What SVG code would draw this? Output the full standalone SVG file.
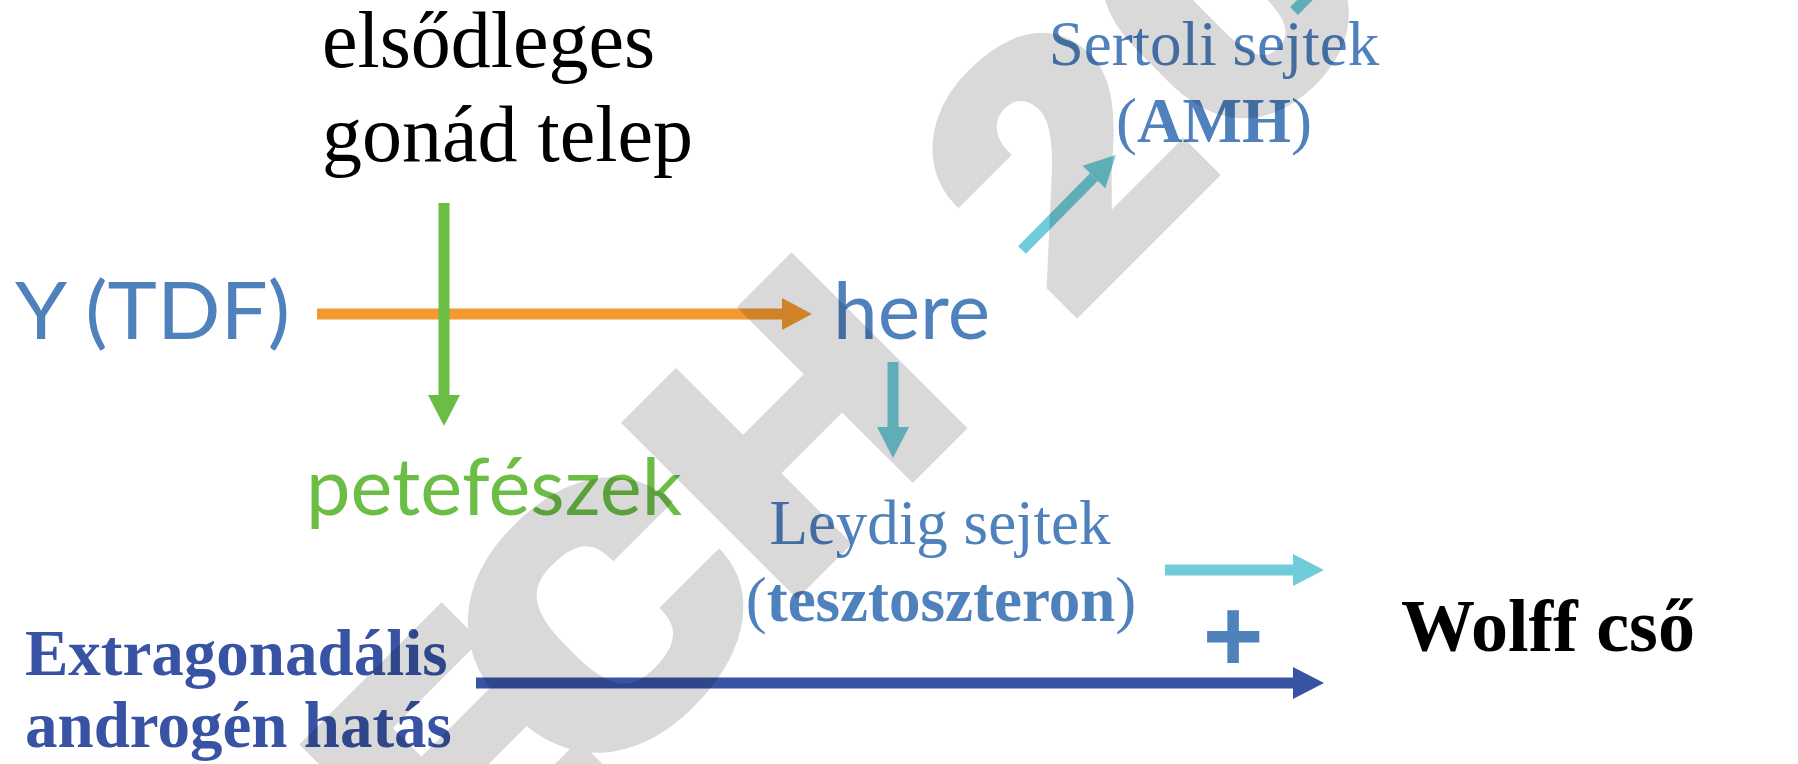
<svg xmlns="http://www.w3.org/2000/svg" width="1798" height="764" viewBox="0 0 1798 764">
<defs>
<style>
.serif{font-family:"Liberation Serif","Times New Roman",serif}
.sans{font-family:Lato,"Open Sans","Liberation Sans",sans-serif}
.blue{fill:#4F81BD}
.navy{fill:#3953A4}
.b{font-weight:bold}
.ln{fill:none;stroke-width:11}
.wm text{font-family:Roboto,"DejaVu Sans",sans-serif;font-weight:900;font-size:336px;fill:#000;stroke:#000;stroke-width:10;stroke-linejoin:miter}
</style>
<marker id="hOrange" markerUnits="userSpaceOnUse" markerWidth="31" markerHeight="32" refX="0" refY="16" orient="auto" overflow="visible"><path d="M0,0 L30,16 L0,32 Z" fill="#F4992F"/></marker>
<marker id="hGreen" markerUnits="userSpaceOnUse" markerWidth="31" markerHeight="32" refX="0" refY="16" orient="auto" overflow="visible"><path d="M0,0 L31,16 L0,32 Z" fill="#6CBD45"/></marker>
<marker id="hCyan" markerUnits="userSpaceOnUse" markerWidth="31" markerHeight="32" refX="0" refY="16" orient="auto" overflow="visible"><path d="M0,0 L31,16 L0,32 Z" fill="#6FCCD8"/></marker>
<marker id="hNavy" markerUnits="userSpaceOnUse" markerWidth="31" markerHeight="32" refX="0" refY="16" orient="auto" overflow="visible"><path d="M0,0 L31,16 L0,32 Z" fill="#3953A4"/></marker>
</defs>
<rect width="1798" height="764" fill="#fff"/>

<g id="connectors">
<line class="ln" x1="317" y1="314" x2="782" y2="314" stroke="#F4992F" marker-end="url(#hOrange)"/>
<line class="ln" x1="444" y1="203" x2="444" y2="395" stroke="#6CBD45" stroke-width="10" marker-end="url(#hGreen)"/>
<line class="ln" x1="893" y1="362" x2="893" y2="427" stroke="#6FCCD8" marker-end="url(#hCyan)"/>
<line class="ln" x1="1022" y1="250" x2="1094" y2="177" stroke="#6FCCD8" marker-end="url(#hCyan)"/>
<line class="ln" x1="1294" y1="11" x2="1320" y2="-15" stroke="#6FCCD8"/>
<line class="ln" x1="1165" y1="570" x2="1293" y2="570" stroke="#6FCCD8" marker-end="url(#hCyan)"/>
<line class="ln" x1="476" y1="683" x2="1293" y2="683" stroke="#3953A4" marker-end="url(#hNavy)"/>
</g>

<g id="node-primary">
<text class="serif" x="322" y="67" font-size="80" fill="#000">elsődleges</text>
<text class="serif" x="322" y="161" font-size="80" fill="#000">gonád telep</text>
</g>
<g id="node-y">
<text class="sans blue" x="15" y="339" font-size="80" textLength="275" lengthAdjust="spacingAndGlyphs">Y (TDF)</text>
</g>
<g id="node-here">
<text class="sans blue" x="833" y="339" font-size="80" textLength="157" lengthAdjust="spacingAndGlyphs">here</text>
</g>
<g id="node-ovary">
<text class="sans" x="306" y="515" font-size="80" fill="#6CBD45" textLength="376" lengthAdjust="spacingAndGlyphs">petefészek</text>
</g>
<g id="node-sertoli">
<text class="serif blue" x="1214" y="65" font-size="63" text-anchor="middle">Sertoli sejtek</text>
<text class="serif blue" x="1214" y="142" font-size="63" text-anchor="middle">(<tspan class="b">AMH</tspan>)</text>
</g>
<g id="node-leydig">
<text class="serif blue" x="940" y="544" font-size="63" text-anchor="middle">Leydig sejtek</text>
<text class="serif blue" x="941" y="621" font-size="63" text-anchor="middle">(<tspan class="b">tesztoszteron</tspan>)</text>
</g>
<g id="node-extra">
<text class="serif navy b" x="25" y="675" font-size="65">Extragonadális</text>
<text class="serif navy b" x="25" y="747" font-size="65">androgén hatás</text>
</g>
<g id="node-plus">
<text class="blue b" x="1233" y="671" font-size="104" text-anchor="middle" font-family="Liberation Sans, Arial, sans-serif">+</text>
</g>
<g id="node-wolff">
<text class="serif b" x="1401" y="651" font-size="74" fill="#000">Wolff cső</text>
</g>

<g id="watermark" class="wm" opacity="0.15">
<text transform="rotate(-45) translate(-330,982) scale(1.15,1)">E</text>
<text transform="rotate(-45) translate(-150,982) scale(1.25,1)">C</text>
<text transform="rotate(-45) translate(125,982) scale(1.15,1)">H</text>
<text transform="rotate(-45) translate(525,982) scale(1.15,1)">2</text>
<text transform="rotate(-45) translate(758,982) scale(1.15,1)">0</text>
</g>
</svg>
